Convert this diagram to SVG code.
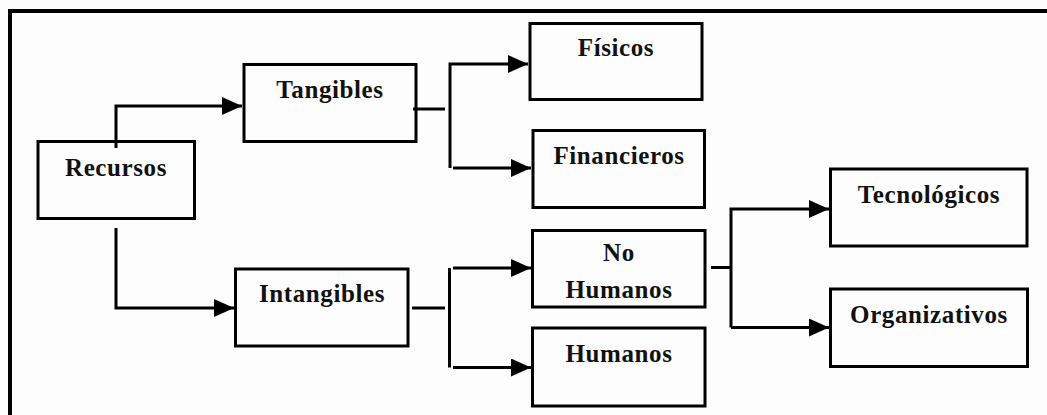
<svg xmlns="http://www.w3.org/2000/svg" width="1047" height="415" viewBox="0 0 1047 415">
<style>
.box{fill:none;stroke:#000;stroke-width:3}
.ln{fill:none;stroke:#000;stroke-width:3}
.t{font-family:"Liberation Serif","Times New Roman",serif;font-weight:bold;font-size:25px;letter-spacing:0.6px;fill:#111;text-anchor:middle}
</style>
<defs>
<marker id="arr" markerUnits="userSpaceOnUse" markerWidth="20" markerHeight="18" refX="20" refY="9" orient="auto">
<path d="M0,0 L20,9 L0,18 Z" fill="#000"/>
</marker>
</defs>
<rect width="1047" height="415" fill="#fdfdfd"/>
<g id="frame">
<rect x="8" y="9" width="1039" height="4" fill="#000"/>
<rect x="8" y="9" width="4" height="406" fill="#000"/>
</g>
<g id="connectors">
<path class="ln" d="M116,148 V106 H242" marker-end="url(#arr)"/>
<path class="ln" d="M116,228 V308 H234" marker-end="url(#arr)"/>
<path class="ln" d="M413,109 H445"/>
<path class="ln" d="M450,168 V64 H528" marker-end="url(#arr)"/>
<path class="ln" d="M453,168 H531" marker-end="url(#arr)"/>
<path class="ln" d="M412,308 H445"/>
<path class="ln" d="M449.5,367.5 V268"/>
<path class="ln" d="M453,268 H531" marker-end="url(#arr)"/>
<path class="ln" d="M453,367.5 H531" marker-end="url(#arr)"/>
<path class="ln" d="M711,267.5 H731"/>
<path class="ln" d="M731,327.5 V209 H829" marker-end="url(#arr)"/>
<path class="ln" d="M731,327.5 H829" marker-end="url(#arr)"/>
</g>
<g id="recursos"><rect class="box" x="38" y="141.5" width="156.5" height="77"/><text class="t" x="116" y="175.5">Recursos</text></g>
<g id="tangibles"><rect class="box" x="244" y="64.5" width="172" height="77"/><text class="t" x="330" y="98">Tangibles</text></g>
<g id="fisicos"><rect class="box" x="530" y="23.5" width="172" height="76"/><text class="t" x="616" y="56">Físicos</text></g>
<g id="financieros"><rect class="box" x="533" y="130.5" width="171.5" height="77"/><text class="t" x="619" y="163.5">Financieros</text></g>
<g id="intangibles"><rect class="box" x="235.5" y="269" width="172.5" height="77"/><text class="t" x="322" y="301.5">Intangibles</text></g>
<g id="nohumanos"><rect class="box" x="532.5" y="230.5" width="172.5" height="76.5"/><text class="t" x="619" y="261">No</text><text class="t" x="619" y="297.5">Humanos</text></g>
<g id="humanos"><rect class="box" x="532.5" y="328" width="172.5" height="78"/><text class="t" x="619" y="361.5">Humanos</text></g>
<g id="tecnologicos"><rect class="box" x="830.5" y="169" width="196.5" height="77"/><text class="t" x="929" y="202.5">Tecnológicos</text></g>
<g id="organizativos"><rect class="box" x="830.5" y="289" width="197" height="77.5"/><text class="t" x="929" y="322.5">Organizativos</text></g>
</svg>
